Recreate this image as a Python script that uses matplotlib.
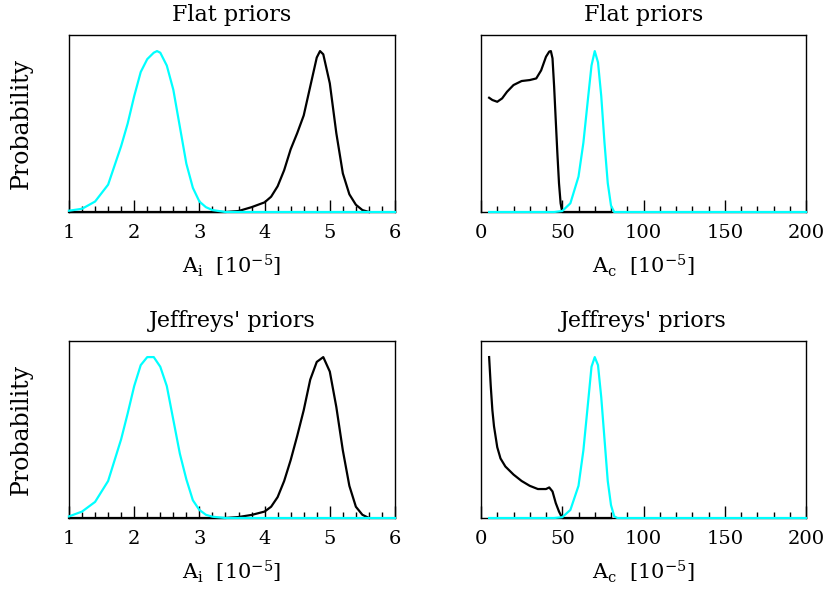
import matplotlib
matplotlib.use("Agg")
import matplotlib.pyplot as plt
from matplotlib.ticker import MultipleLocator

plt.rcParams['font.family'] = ['DejaVu Serif']
plt.rcParams['mathtext.fontset'] = 'dejavuserif'

# ---- A_i panels (x in units of 1e-5) ----
ai_cyan_x = [1.0, 1.2, 1.4, 1.6, 1.8, 1.9, 2.0, 2.1, 2.2, 2.3, 2.35, 2.4, 2.5, 2.6,
             2.7, 2.8, 2.9, 3.0, 3.1, 3.2, 3.4, 6.0]
flat_ai_cyan = [0.008, 0.02, 0.065, 0.17, 0.41, 0.55, 0.72, 0.87, 0.95, 0.99, 1.0, 0.99,
                0.91, 0.76, 0.53, 0.30, 0.15, 0.065, 0.03, 0.012, 0.0, 0.0]
ai_black_x = [1.0, 3.4, 3.6, 3.8, 4.0, 4.1, 4.2, 4.3, 4.4, 4.5, 4.6, 4.7, 4.8, 4.85,
              4.9, 5.0, 5.1, 5.2, 5.3, 5.4, 5.5, 5.6]
flat_ai_black = [0.0, 0.0, 0.006, 0.03, 0.06, 0.095, 0.16, 0.26, 0.39, 0.49, 0.60, 0.78,
                 0.96, 1.0, 0.98, 0.80, 0.49, 0.24, 0.11, 0.045, 0.012, 0.0]

jeff_ai_cyan_x = [1.0, 1.2, 1.4, 1.6, 1.8, 1.9, 2.0, 2.1, 2.2, 2.25, 2.3, 2.4, 2.5, 2.6,
                  2.7, 2.8, 2.9, 3.0, 3.1, 3.2, 3.4, 6.0]
jeff_ai_cyan = [0.01, 0.04, 0.10, 0.23, 0.49, 0.65, 0.82, 0.95, 1.0, 1.0, 1.0, 0.94,
                0.82, 0.61, 0.40, 0.24, 0.11, 0.05, 0.02, 0.008, 0.0, 0.0]
jeff_ai_black_x = [1.0, 3.4, 3.6, 3.8, 4.0, 4.1, 4.2, 4.3, 4.4, 4.5, 4.6, 4.7, 4.8, 4.9,
                   5.0, 5.1, 5.2, 5.3, 5.4, 5.5, 5.6]
jeff_ai_black = [0.0, 0.0, 0.006, 0.019, 0.04, 0.07, 0.13, 0.23, 0.36, 0.51, 0.67, 0.86,
                 0.97, 1.0, 0.91, 0.69, 0.42, 0.20, 0.07, 0.02, 0.0]

# ---- A_c panels ----
flat_ac_black_x = [5, 7, 10, 13, 16, 20, 25, 30, 34, 37, 40, 42, 43, 44, 45, 46, 47,
                   48, 49, 50, 80]
flat_ac_black = [0.71, 0.696, 0.685, 0.706, 0.747, 0.789, 0.814, 0.82, 0.83, 0.88,
                 0.965, 0.997, 1.0, 0.955, 0.78, 0.57, 0.364, 0.178, 0.054, 0.0, 0.0]
ac_cyan_x = [5, 45, 50, 55, 60, 63, 66, 68, 70, 72, 74, 76, 78, 80, 82, 84, 200]
flat_ac_cyan = [0.0, 0.0, 0.006, 0.054, 0.22, 0.43, 0.72, 0.91, 1.0, 0.93, 0.72, 0.43,
                0.18, 0.04, 0.0, 0.0, 0.0]

jeff_ac_black_x = [5, 6, 7, 8, 10, 12, 15, 20, 25, 30, 35, 40, 42, 44, 46, 48, 50, 80]
jeff_ac_black = [1.0, 0.82, 0.67, 0.57, 0.44, 0.37, 0.32, 0.27, 0.23, 0.20, 0.18, 0.18,
                 0.19, 0.165, 0.093, 0.04, 0.0, 0.0]
jeff_ac_cyan = [0.0, 0.0, 0.005, 0.05, 0.20, 0.42, 0.73, 0.94, 1.0, 0.95, 0.75, 0.49,
                0.23, 0.08, 0.01, 0.0, 0.0]

titles = ['Flat priors', 'Flat priors', "Jeffreys' priors", "Jeffreys' priors"]
xlabels = [r'A$_\mathrm{i}$  [10$^{-5}$]', r'A$_\mathrm{c}$  [10$^{-5}$]']

fig = plt.figure(figsize=(8.3, 5.91), dpi=100)
W, H = 830, 591
boxes = [(69, 35, 395, 212), (481, 35, 806, 212),
         (69, 341, 395, 518), (481, 341, 806, 518)]
axes = [fig.add_axes([x0 / W, 1 - y1 / H, (x1 - x0) / W, (y1 - y0) / H])
        for x0, y0, x1, y1 in boxes]

panels = [
    (ai_cyan_x, flat_ai_cyan, ai_black_x, flat_ai_black),
    (ac_cyan_x, flat_ac_cyan, flat_ac_black_x, flat_ac_black),
    (jeff_ai_cyan_x, jeff_ai_cyan, jeff_ai_black_x, jeff_ai_black),
    (ac_cyan_x, jeff_ac_cyan, jeff_ac_black_x, jeff_ac_black),
]

for i, ax in enumerate(axes):
    cx, cy, bx, by = panels[i]
    ax.plot(bx, by, color='black', lw=1.6, zorder=3, clip_on=False)
    ax.plot(cx, cy, color='cyan', lw=1.6, zorder=4, clip_on=False)
    ax.set_ylim(0, 1.1)
    if i % 2 == 0:
        ax.set_xlim(1, 6)
        ax.xaxis.set_major_locator(MultipleLocator(1))
        ax.xaxis.set_minor_locator(MultipleLocator(0.2))
        ax.set_ylabel('Probability', fontsize=17, labelpad=26)
    else:
        ax.set_xlim(0, 200)
        ax.xaxis.set_major_locator(MultipleLocator(50))
        ax.xaxis.set_minor_locator(MultipleLocator(10))
    ax.set_xlabel(xlabels[i % 2], fontsize=15, labelpad=7)
    ax.set_title(titles[i], fontsize=16, pad=10)
    ax.set_yticks([])
    ax.tick_params(axis='x', which='both', direction='in', top=False,
                   labelsize=14, pad=9, width=1)
    ax.tick_params(axis='x', which='major', length=9)
    ax.tick_params(axis='x', which='minor', length=4.5)
    for s in ax.spines.values():
        s.set_linewidth(1)

fig.savefig('out.png', dpi=100)
